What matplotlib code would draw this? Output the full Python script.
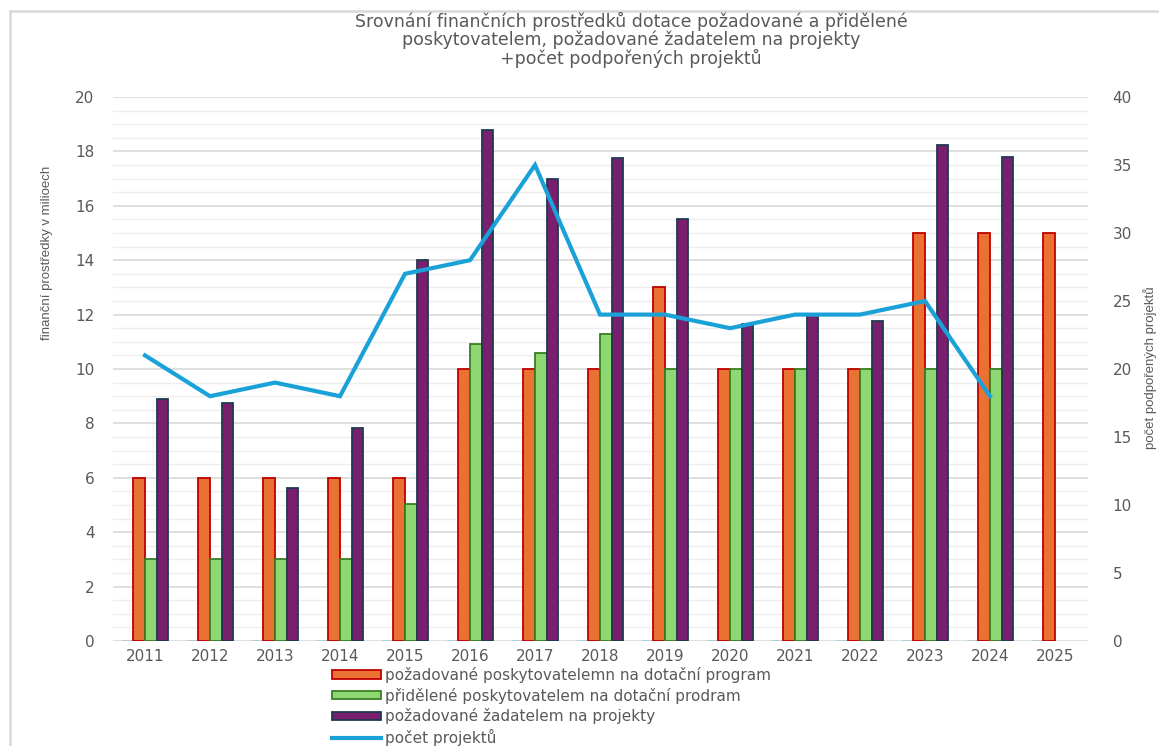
import numpy as np
import matplotlib
matplotlib.use("Agg")
import matplotlib.pyplot as plt
from matplotlib import font_manager
from matplotlib.patches import Patch
from matplotlib.lines import Line2D

# ---------------- data ----------------
years = ["2011", "2012", "2013", "2014", "2015", "2016", "2017", "2018",
         "2019", "2020", "2021", "2022", "2023", "2024", "2025"]
hidden_series = [0, 0, 0, 0, 0, 0, 0, 0, 0, 0, 0, 0, 0, 0, 0]
pozadovane_poskytovatelem = [6, 6, 6, 6, 6, 10, 10, 10, 13, 10, 10, 10, 15, 15, 15]
pridelene_poskytovatelem = [3, 3, 3, 3, 5.05, 10.93, 10.57, 11.3, 10, 10, 10, 10, 10, 10, np.nan]
pozadovane_zadatelem = [8.9, 8.75, 5.62, 7.83, 14, 18.79, 17, 17.75, 15.53, 11.66, 12, 11.75,
                        18.22, 17.79, np.nan]
pocet_projektu = [21, 18, 19, 18, 27, 28, 35, 24, 24, 23, 24, 24, 25, 18, np.nan]

title = ("Srovnání finančních prostředků dotace požadované a přidělené\n"
         "poskytovatelem, požadované žadatelem na projekty\n"
         "+počet podpořených projektů")
left_label = "finanční prostředky v milioech"
right_label = "počet podpořených projektů"
legend_labels = ["požadované poskytovatelemn na dotační program",
                 "přidělené poskytovatelem na dotační prodram",
                 "požadované žadatelem na projekty",
                 "počet projektů"]

# ---------------- style ----------------
W, H = 1159, 746
TXT = "#595959"
C_OR, E_OR = "#E97132", "#C00000"
C_GR, E_GR = "#8ED873", "#3B7D23"
C_PU, E_PU = "#78206E", "#1F3A4F"
C_LINE = "#1AA2D8"

def font_exists(name):
    try:
        font_manager.findfont(font_manager.FontProperties(family=name),
                              fallback_to_default=False)
        return True
    except Exception:
        return False

narrow = "Liberation Sans Narrow" if font_exists("Liberation Sans Narrow") else "Liberation Sans"

plt.rcParams["font.family"] = ["DejaVu Sans"]

fig = plt.figure(figsize=(W / 100, H / 100), dpi=100)
ax = fig.add_axes([112.5 / W, 1 - 641 / H, 975 / W, 544 / H])
ax2 = ax.twinx()

x = np.arange(len(years))
w = 0.18
ax.bar(x - 1.5 * w, hidden_series, w, color="none", edgecolor="#A9C9DA", linewidth=1.2, zorder=3)
ax.bar(x - 0.5 * w, pozadovane_poskytovatelem, w, color=C_OR, edgecolor=E_OR, linewidth=1.3, zorder=3)
ax.bar(x + 0.5 * w, pridelene_poskytovatelem, w, color=C_GR, edgecolor=E_GR, linewidth=1.3, zorder=3)
ax.bar(x + 1.5 * w, pozadovane_zadatelem, w, color=C_PU, edgecolor=E_PU, linewidth=1.3, zorder=3)

ax2.plot(x, pocet_projektu, color=C_LINE, linewidth=3, solid_joinstyle="miter", zorder=5)

ax.set_xlim(-0.5, 14.5)
ax.set_ylim(0, 20)
ax2.set_ylim(0, 40)
ax.set_yticks(np.arange(0, 21, 2))
ax.set_yticks(np.arange(0, 20.01, 0.5), minor=True)
ax2.set_yticks(np.arange(0, 41, 5))
ax.set_xticks(x)
ax.set_xticklabels(years)

ax.grid(axis="y", which="major", color="#d9d9d9", linewidth=1.2, zorder=0)
ax.grid(axis="y", which="minor", color="#eeeeee", linewidth=1.0, zorder=0)
ax.set_axisbelow(True)

for a in (ax, ax2):
    for s in a.spines.values():
        s.set_visible(False)
ax.tick_params(axis="both", which="both", length=0, colors=TXT, labelsize=11)
ax.tick_params(axis="y", pad=13)
ax.tick_params(axis="x", pad=6)
ax2.tick_params(axis="y", length=0, colors=TXT, labelsize=11, pad=18)

ax2.set_zorder(ax.get_zorder() + 1)
ax2.patch.set_visible(False)

# titles / labels
fig.text(631 / W, 1 - 12 / H, title, ha="center", va="top", fontsize=12.5,
         color=TXT, linespacing=0.98)
fig.text(47 / W, 1 - 253 / H, left_label, rotation=90, ha="center", va="center",
         fontsize=9.5, color=TXT, family=[narrow, "DejaVu Sans"])
fig.text(1150 / W, 1 - 368 / H, right_label, rotation=90, ha="center", va="center",
         fontsize=9.5, color=TXT, family=[narrow, "DejaVu Sans"])

# legend
handles = [Patch(facecolor=C_OR, edgecolor=E_OR, linewidth=1.3),
           Patch(facecolor=C_GR, edgecolor=E_GR, linewidth=1.3),
           Patch(facecolor=C_PU, edgecolor=E_PU, linewidth=1.3),
           Line2D([0], [0], color=C_LINE, linewidth=3)]
fig.legend(handles, legend_labels, loc="upper left",
           bbox_to_anchor=(332 / W, 1 - 667 / H), frameon=False, borderpad=0,
           borderaxespad=0, fontsize=11, labelcolor=TXT, handlelength=3.2,
           handleheight=0.45, handletextpad=0.3, labelspacing=0.3)

# chart frame
fig.add_artist(Line2D([10 / W, 10 / W], [0, 1 - 11 / H], color="#d9d9d9", linewidth=1.8))
fig.add_artist(Line2D([10 / W, 1], [1 - 11 / H, 1 - 11 / H], color="#d9d9d9", linewidth=1.8))

fig.savefig("out.png", dpi=100)
